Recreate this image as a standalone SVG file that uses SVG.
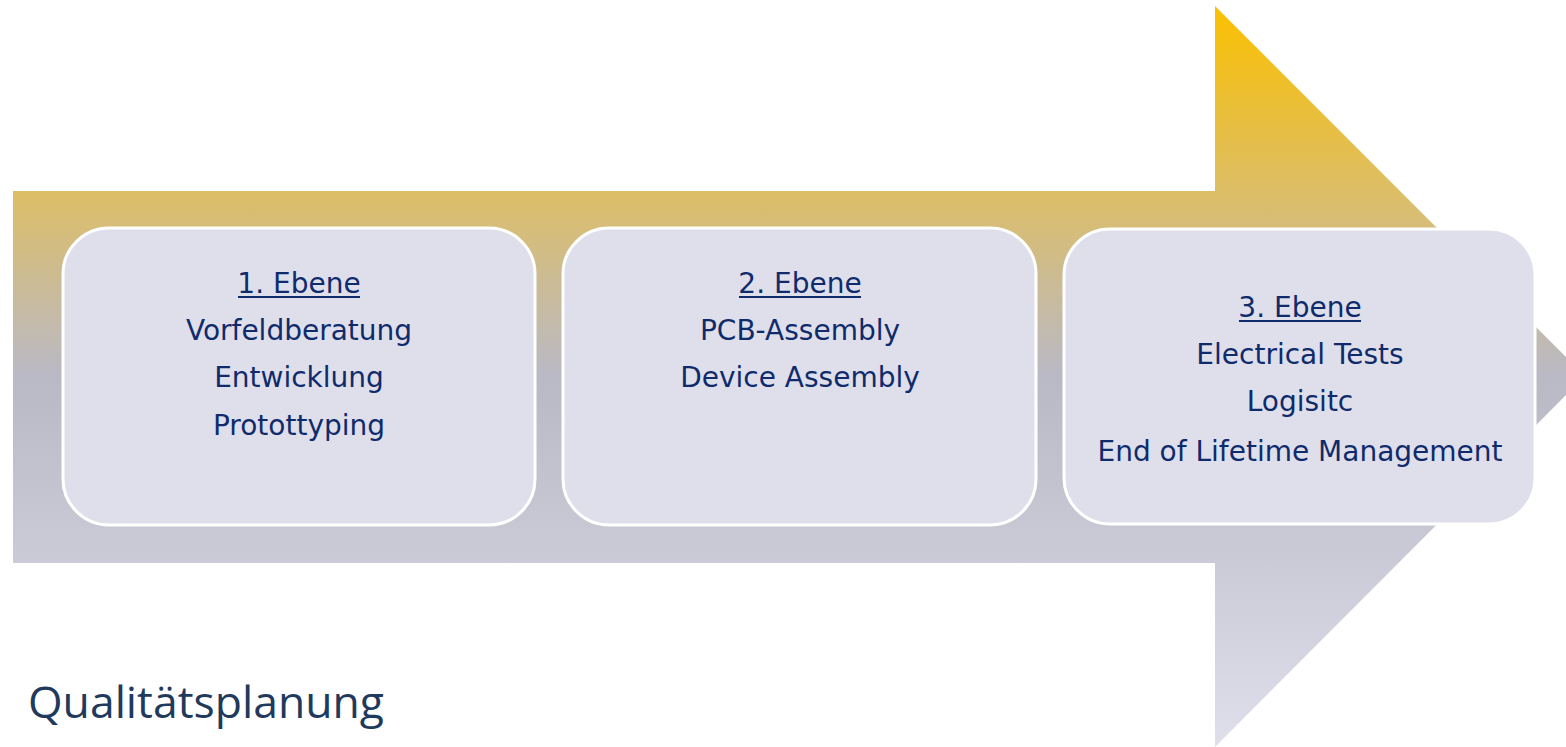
<svg xmlns="http://www.w3.org/2000/svg" width="1566" height="747" viewBox="0 0 1566 747">
<defs>
<linearGradient id="arrowGrad" gradientUnits="userSpaceOnUse" x1="0" y1="6" x2="0" y2="747">
<stop offset="0" stop-color="#FBC000"/>
<stop offset="0.25" stop-color="#DDBE66"/>
<stop offset="0.5" stop-color="#B9B9C6"/>
<stop offset="0.75" stop-color="#CBCBD7"/>
<stop offset="1" stop-color="#DFDFEB"/>
</linearGradient>
<style>
.box{fill:#DFDFEB;stroke:#FFFFFF;stroke-width:3}
.t{font-family:"DejaVu Sans","Verdana",sans-serif;font-size:28px;fill:#0F2B6B;text-anchor:middle}
.u{stroke:#0F2B6B;stroke-width:2}
.title{font-family:"Open Sans","Noto Sans",sans-serif;font-size:44.5px;fill:#1F3A5C}
</style>
</defs>
<g id="arrow">
<polygon points="13,191 1215,191 1215,6 1585,376 1215,747 1215,563 13,563" fill="url(#arrowGrad)"/>
</g>
<g id="connectors"></g>
<g id="node1">
<rect class="box" x="63" y="228" width="472" height="297" rx="46" ry="46"/>
<text class="t" x="299" y="293">1. Ebene</text>
<line class="u" x1="238" y1="297" x2="360" y2="297"/>
<text class="t" x="299" y="340">Vorfeldberatung</text>
<text class="t" x="299" y="387">Entwicklung</text>
<text class="t" x="299" y="435">Protottyping</text>
</g>
<g id="node2">
<rect class="box" x="563" y="228" width="473" height="297" rx="46" ry="46"/>
<text class="t" x="800" y="293">2. Ebene</text>
<line class="u" x1="739" y1="297" x2="861" y2="297"/>
<text class="t" x="800" y="340">PCB-Assembly</text>
<text class="t" x="800" y="387">Device Assembly</text>
</g>
<g id="node3">
<rect class="box" x="1064" y="229" width="471" height="295" rx="46" ry="46"/>
<text class="t" x="1300" y="317">3. Ebene</text>
<line class="u" x1="1239" y1="321" x2="1361" y2="321"/>
<text class="t" x="1300" y="364">Electrical Tests</text>
<text class="t" x="1300" y="411">Logisitc</text>
<text class="t" x="1300" y="461">End of Lifetime Management</text>
</g>
<text class="title" x="28" y="718">Qualitätsplanung</text>
</svg>
